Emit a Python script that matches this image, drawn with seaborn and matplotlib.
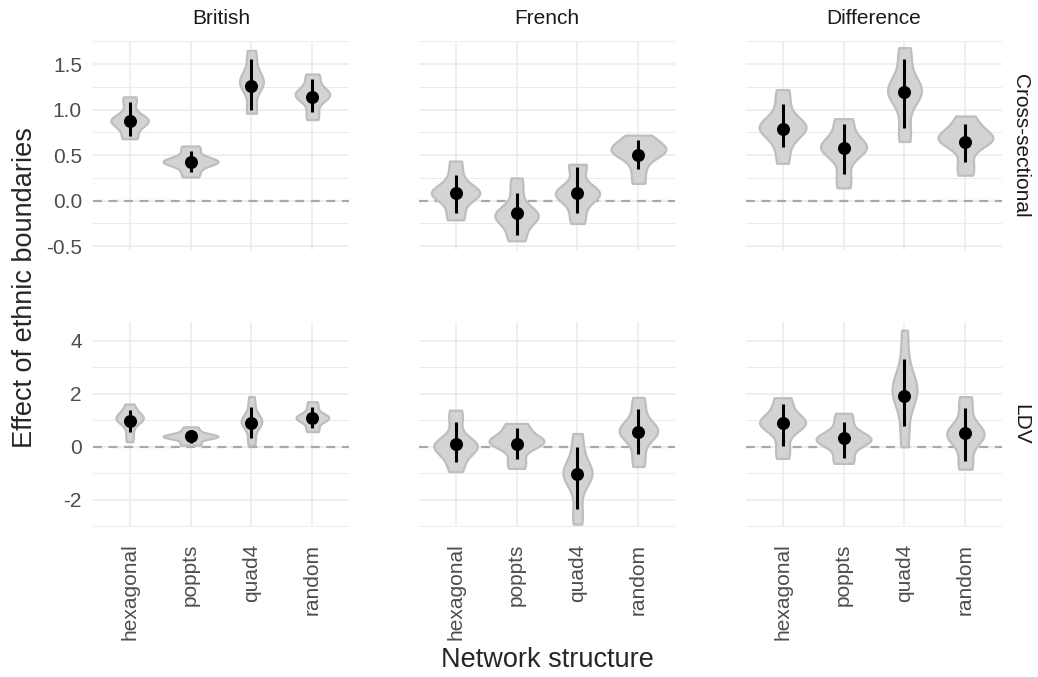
import matplotlib
matplotlib.use("Agg")
import matplotlib.pyplot as plt
import seaborn as sns
import numpy as np
import pandas as pd

# categories
structures = ["hexagonal", "poppts", "quad4", "random"]
samples = ["British", "French", "Difference"]
models = ["Cross-sectional", "LDV"]

# values, ordered model -> sample -> structure
# point estimate, interval (lo, hi), violin range (vmin, vmax) and widest point (mode)
est = [0.87, 0.43, 1.26, 1.14,    0.09, -0.14, 0.08, 0.50,    0.79, 0.58, 1.19, 0.645,
       0.98, 0.40, 0.88, 1.07,    0.10, 0.09, -1.04, 0.54,    0.88, 0.32, 1.93, 0.53]
lo = [0.71, 0.32, 1.00, 0.97,     -0.13, -0.38, -0.14, 0.345,  0.59, 0.29, 0.80, 0.42,
      0.54, 0.13, 0.32, 0.69,     -0.57, -0.48, -2.36, -0.28,  0.04, -0.41, 0.78, -0.53]
hi = [1.08, 0.55, 1.55, 1.34,     0.28, 0.09, 0.37, 0.67,     1.06, 0.84, 1.55, 0.84,
      1.38, 0.60, 1.51, 1.49,     0.94, 0.72, 0.00, 1.41,     1.61, 0.92, 3.31, 1.47]
vmin = [0.68, 0.26, 0.96, 0.89,   -0.21, -0.44, -0.25, 0.19,   0.41, 0.14, 0.65, 0.28,
        0.19, 0.06, 0.06, 0.57,   -0.94, -0.82, -2.92, -0.75,  -0.44, -0.63, 0.00, -0.85]
vmax = [1.14, 0.60, 1.65, 1.39,   0.435, 0.25, 0.40, 0.72,    1.22, 0.90, 1.68, 0.93,
        1.61, 0.75, 1.89, 1.70,   1.38, 0.88, 0.50, 1.86,     1.85, 1.26, 4.40, 1.89]
mode = [0.885, 0.43, 1.33, 1.18,  0.08, -0.175, 0.08, 0.575,  0.82, 0.59, 1.215, 0.70,
        1.11, 0.38, 1.00, 1.11,   0.00, 0.25, -1.00, 0.63,    0.91, 0.25, 2.26, 0.44]

summary = pd.DataFrame({
    "model": np.repeat(models, 12),
    "sample": np.tile(np.repeat(samples, 4), 2),
    "structure": np.tile(structures, 6),
    "est": est, "lo": lo, "hi": hi, "vmin": vmin, "vmax": vmax, "mode": mode,
})

# the read values as draws for the violins; the bulk (mode/estimate) counts more
# than the tails, the way the posterior draws would
draw_cols = ["vmin", "lo", "mode", "est", "mode", "est", "mode", "hi", "vmax"]
long = pd.concat(
    [summary[["model", "sample", "structure"]].assign(effect=summary[col])
     for col in draw_cols],
    ignore_index=True,
)

sns.set_theme(style="whitegrid")
plt.rcParams["font.family"] = ["Liberation Sans", "DejaVu Sans"]

fig = plt.figure(figsize=(10.38, 6.77), dpi=100)
W, H = 1038, 677
col_x = [93, 419, 746]
row_y = [(41, 250), (322, 527)]
ylims = [(-0.541, 1.753), (-3.03, 4.706)]
major = [np.arange(-0.5, 1.51, 0.5), np.arange(-2, 4.1, 2)]
minor = [np.arange(-0.25, 1.76, 0.5), np.arange(-3, 3.1, 2)]

for r, model in enumerate(models):
    top, bot = row_y[r]
    for c, sample in enumerate(samples):
        ax = fig.add_axes([col_x[c] / W, (H - bot) / H, 256 / W, (bot - top) / H])
        d = long[(long["model"] == model) & (long["sample"] == sample)]
        s = summary[(summary["model"] == model) & (summary["sample"] == sample)]
        ax.axhline(0, color="#A8A8A8", lw=1.6, dashes=(4, 3), zorder=1)
        sns.violinplot(data=d, x="structure", y="effect", order=structures, ax=ax,
                       color="#D3D3D3", linecolor="#BEBEBE", linewidth=1.6,
                       inner=None, cut=0, density_norm="area", width=0.9,
                       bw_adjust=0.75, saturation=1)
        pos = np.arange(len(structures))
        ax.vlines(pos, s["lo"], s["hi"], color="black", lw=2.2, zorder=4)
        ax.scatter(pos, s["est"], s=88, color="black", zorder=5, linewidths=0)

        ax.set_xlim(-0.6, 3.6)
        ax.set_ylim(*ylims[r])
        ax.set_yticks(major[r])
        ax.set_yticks(minor[r], minor=True)
        ax.grid(which="major", color="#EBEBEB", lw=1.1)
        ax.grid(which="minor", axis="y", color="#EBEBEB", lw=0.7)
        ax.set_axisbelow(True)
        for sp in ax.spines.values():
            sp.set_visible(False)
        ax.set_xlabel("")
        ax.set_ylabel("")
        ax.tick_params(which="both", length=0, labelsize=15, labelcolor="#4D4D4D")
        ax.tick_params(axis="y", pad=8)
        ax.tick_params(axis="x", pad=12, labelrotation=90)
        if c == 0:
            ax.set_yticklabels(["%g" % v if r == 1 else "%.1f" % v for v in major[r]])
        else:
            ax.tick_params(axis="y", labelleft=False)
        if r == 0:
            ax.tick_params(axis="x", labelbottom=False)
            # column strip label
            fig.text((col_x[c] + 128) / W, 1 - 18 / H, sample, ha="center",
                     va="center", fontsize=15, color="#1A1A1A")
    # row strip label
    fig.text(1021 / W, 1 - (top + bot) / 2 / H, model, rotation=270,
             ha="center", va="center", fontsize=15, color="#1A1A1A")

fig.text(25 / W, 1 - 288 / H, "Effect of ethnic boundaries", rotation=90,
         ha="center", va="center", fontsize=19.5)
fig.text(547 / W, 1 - 660 / H, "Network structure", ha="center", va="center",
         fontsize=19.5)

fig.savefig("out.png", dpi=100)
